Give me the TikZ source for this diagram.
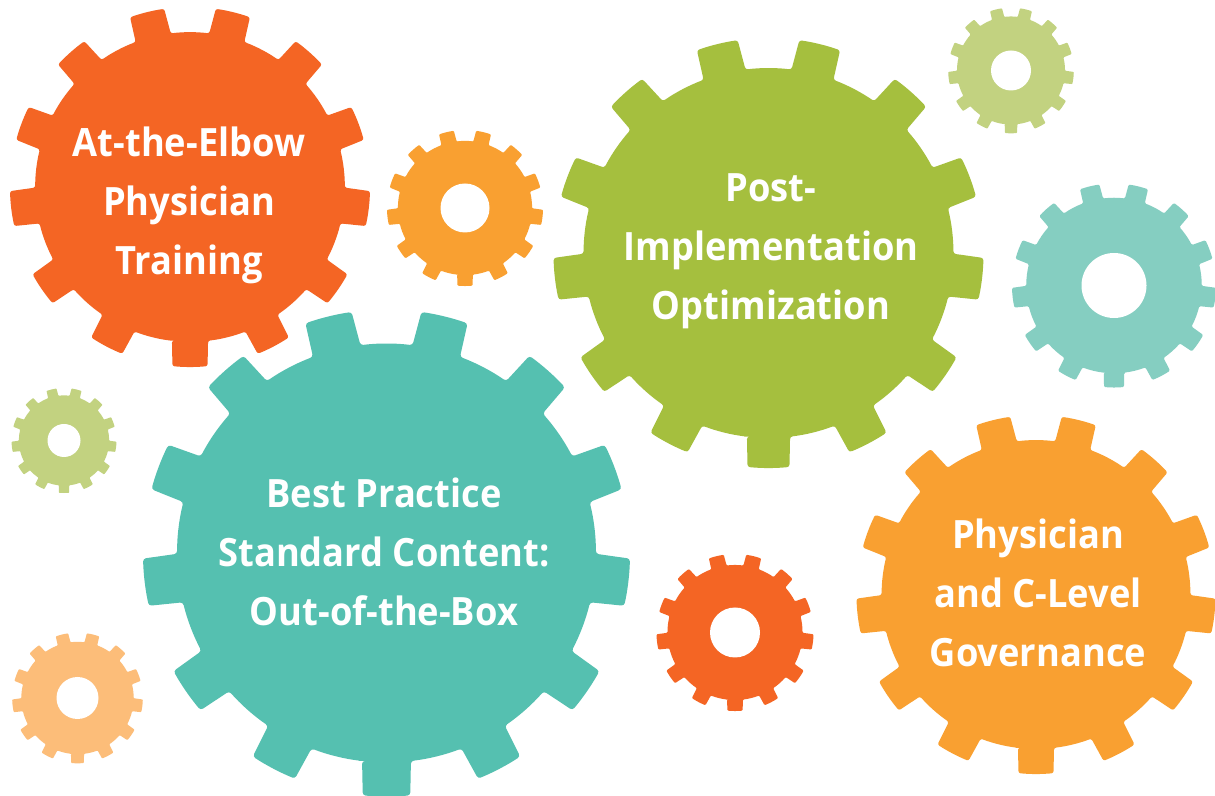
\documentclass[tikz,border=0pt]{standalone}
\usepackage{fontspec}
\setmainfont[FakeStretch=0.93]{Open Sans}
\definecolor{cRed}{HTML}{F46524}
\definecolor{cOrange}{HTML}{F9A031}
\definecolor{cGreen}{HTML}{A5BF3E}
\definecolor{cPale}{HTML}{C2D280}
\definecolor{cAqua}{HTML}{85CEC1}
\definecolor{cTeal}{HTML}{55C0B0}
\definecolor{cPeach}{HTML}{FCBD79}
\tikzset{
  gearlabel/.style={text=white,font=\fontsize{39}{59}\selectfont\bfseries,align=center,inner sep=0pt,anchor=center},
}
\newcommand{\gearwheel}[5]{%
  \pgfmathsetmacro{\gRo}{#3}%
  \pgfmathsetmacro{\gRi}{0.86*#3}%
  \pgfmathsetmacro{\gCr}{0.012*#3}%
  \begin{scope}[shift={(#1,795-#2)}]
    \fill[#5,even odd rule,rounded corners=\gCr pt]
      ({270-6.7}:\gRi pt)
      foreach \gi in {0,...,12} {
        -- ({270+\gi*27.6923-5.6}:\gRo pt)
        arc[start angle={270+\gi*27.6923-5.6},end angle={270+\gi*27.6923+5.6},radius=\gRo pt]
        -- ({270+\gi*27.6923+6.7}:\gRi pt)
        arc[start angle={270+\gi*27.6923+6.7},end angle={270+\gi*27.6923+27.6923-6.7},radius=\gRi pt]
      } -- cycle;
    \fill[white] (0,0) circle[radius=#4 pt];
  \end{scope}%
}
\begin{document}
\begin{tikzpicture}[x=1pt,y=1pt]
\useasboundingbox (0,0) rectangle (1215,795);
\clip (0,0) rectangle (1215,795);
\fill[white] (0,0) rectangle (1215,795);
\gearwheel{190}{187}{180}{0}{cRed}
\gearwheel{465}{208}{78}{24.5}{cOrange}
\gearwheel{768.5}{253}{215}{0}{cGreen}
\gearwheel{1011}{70.5}{62.8}{20}{cPale}
\gearwheel{1114}{285.5}{102}{32.5}{cAqua}
\gearwheel{386.5}{553}{243.5}{0}{cTeal}
\gearwheel{64}{440.5}{52.5}{16.5}{cPale}
\gearwheel{77.5}{698}{65.3}{21}{cPeach}
\gearwheel{1036}{594.5}{179.5}{0}{cOrange}
\gearwheel{735}{632.5}{78.5}{25}{cRed}
\node[gearlabel] (elbow) at (189,795-205.5) {At-the-Elbow\\Physician\\Training};
\node[gearlabel] (post) at (771,795-251) {Post-\\Implementation\\Optimization};
\node[gearlabel] (best) at (384,795-551.5) {Best Practice\\Standard Content:\\Out-of-the-Box};
\node[gearlabel] (gov) at (1038,795-593) {Physician\\and C-Level\\Governance};
\end{tikzpicture}
\end{document}
